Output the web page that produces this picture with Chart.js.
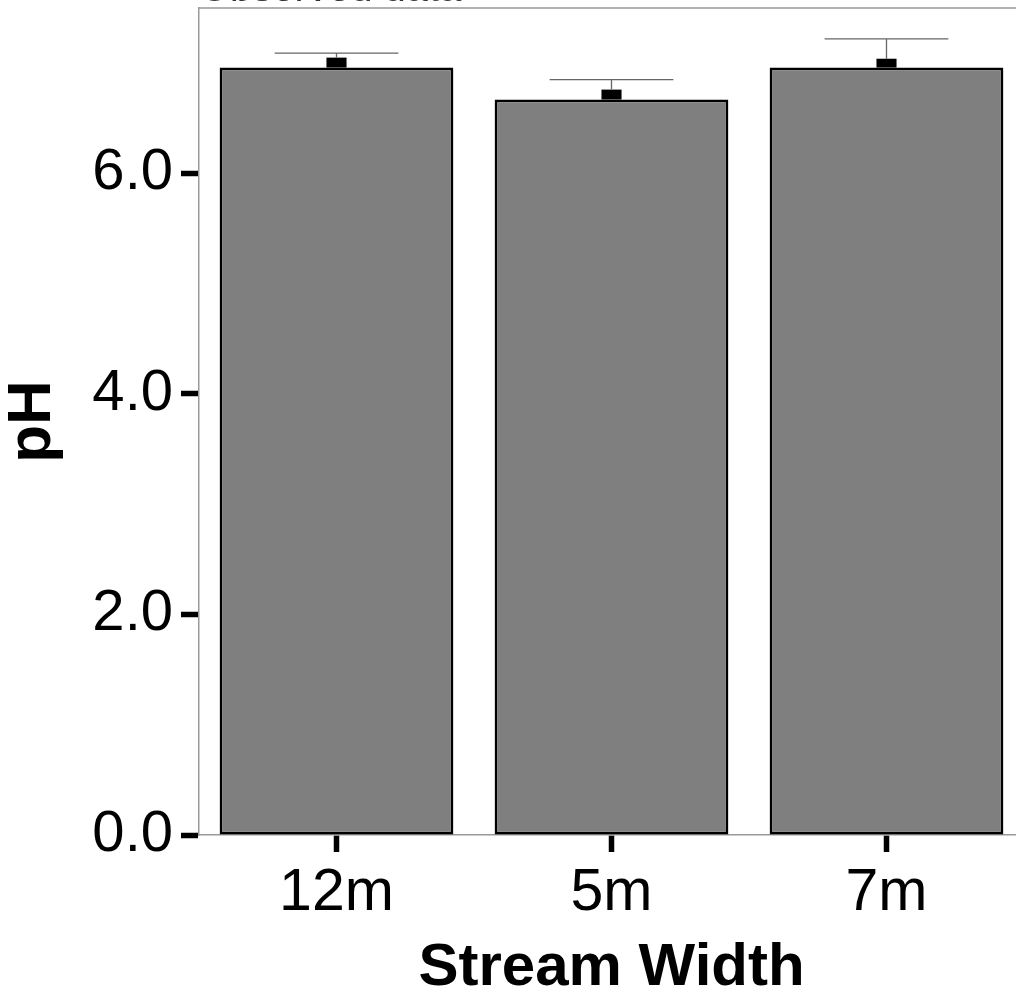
<!DOCTYPE html>
<html>
<head>
<meta charset="utf-8">
<script src="https://cdn.jsdelivr.net/npm/chart.js@4/dist/chart.umd.min.js"></script>
<style>
  html, body { margin: 0; padding: 0; background: #fff; overflow: hidden; }
  #wrap { width: 1016px; height: 996px; overflow: hidden; }
  canvas { display: block; }
</style>
</head>
<body>
<div id="wrap"><canvas id="phChart" width="1040" height="996"></canvas></div>
<script>
// --- Data ---
const widths = ['12m', '5m', '7m'];
const phMean = [6.96, 6.67, 6.96];
const phMarkTop = [7.05, 6.76, 7.04];   // top of the small black block above each bar
const phUpper = [7.09, 6.85, 7.22];     // error bar cap
const yTicks = [0, 2, 4, 6];

const FONT = '"Liberation Sans", Arial, sans-serif';

// error bars + panel frame
const errorBars = {
  id: 'errorBars',
  afterDatasetsDraw(chart) {
    const { ctx, chartArea: area, scales: { x, y } } = chart;
    const band = x.width / widths.length;
    ctx.save();
    widths.forEach((w, i) => {
      const cx = x.getPixelForValue(i);
      const yMean = y.getPixelForValue(phMean[i]);
      const yMark = y.getPixelForValue(phMarkTop[i]);
      const yCap = y.getPixelForValue(phUpper[i]);
      // black block
      ctx.fillStyle = '#000';
      const bw = band * 0.073;
      ctx.fillRect(cx - bw / 2, yMark, bw, yMean - yMark);
      // stem and cap
      ctx.strokeStyle = '#666';
      ctx.lineWidth = 1.3;
      ctx.beginPath();
      ctx.moveTo(cx, yMark);
      ctx.lineTo(cx, yCap);
      const cw = band * 0.45;
      ctx.moveTo(cx - cw / 2, yCap);
      ctx.lineTo(cx + cw / 2, yCap);
      ctx.stroke();
    });
    // panel top border
    ctx.strokeStyle = '#999';
    ctx.lineWidth = 1.5;
    ctx.beginPath();
    ctx.moveTo(area.left, area.top);
    ctx.lineTo(area.right, area.top);
    ctx.stroke();
    // cropped title at the very top (only the bottom of the glyphs shows)
    ctx.fillStyle = '#333';
    ctx.font = '40px ' + FONT;
    ctx.textBaseline = 'alphabetic';
    ctx.textAlign = 'left';
    ctx.fillText('Observed data', area.left, 0.5);
    ctx.restore();
  }
};

new Chart(document.getElementById('phChart'), {
  type: 'bar',
  data: {
    labels: widths,
    datasets: [{
      data: phMean,
      backgroundColor: '#7f7f7f',
      borderColor: '#000',
      borderWidth: 2.8,
      borderSkipped: false,
      barPercentage: 0.85,
      categoryPercentage: 1
    }]
  },
  options: {
    responsive: false,
    animation: false,
    layout: { padding: { top: 8, right: 16, left: 0, bottom: 0 } },
    plugins: { legend: { display: false }, tooltip: { enabled: false } },
    scales: {
      x: {
        afterFit(scale) { scale.height = 161; },
        grid: { offset: false, drawOnChartArea: false, tickLength: 17, tickWidth: 5.5, tickColor: '#000' },
        border: { color: '#999', width: 1.5 },
        ticks: { color: '#000', font: { family: FONT, size: 59 }, padding: 6 },
        title: {
          display: true, text: 'Stream Width', color: '#000',
          font: { family: FONT, size: 60, weight: 'bold' }, padding: { top: 0, bottom: -8 }
        }
      },
      y: {
        min: 0,
        max: 7.5,
        afterFit(scale) {
          scale.width = 199;
          scale.paddingTop = 0;
          scale.paddingBottom = 0;
        },
        afterBuildTicks(scale) { scale.ticks = yTicks.map(v => ({ value: v })); },
        grid: { drawOnChartArea: false, tickLength: 18, tickWidth: 5.5, tickColor: '#000' },
        border: { color: '#999', width: 1.5 },
        ticks: {
          color: '#000', font: { family: FONT, size: 58 }, padding: 8,
          callback: v => Number(v).toFixed(1)
        },
        title: {
          display: true, text: 'pH', color: '#000',
          font: { family: FONT, size: 62, weight: 'bold' }, padding: { top: -4, bottom: 0 }
        }
      }
    }
  },
  plugins: [errorBars]
});
</script>
</body>
</html>
